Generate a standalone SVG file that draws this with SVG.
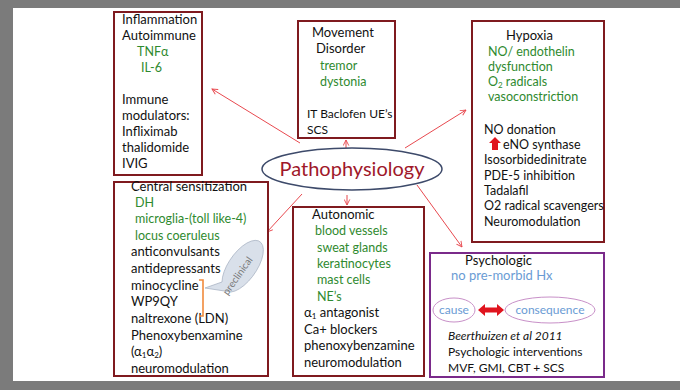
<svg xmlns="http://www.w3.org/2000/svg" width="680" height="390" viewBox="0 0 680 390">
<defs>
<style>
text{font-family:Lato,"Open Sans","Liberation Sans",sans-serif;font-size:13px;fill:#111}
.g{fill:#2f8a2f;font-size:12.5px}
.b{fill:#6a9bd4}
.box{fill:#fff;stroke:#7f1a1f;stroke-width:2}
.conn{stroke:#e8494f;stroke-width:1;fill:none;marker-end:url(#ah)}
.sub{font-size:8px}
</style>
<marker id="ah" viewBox="0 0 10 10" refX="9" refY="5" markerWidth="7" markerHeight="7" orient="auto" markerUnits="userSpaceOnUse">
<path d="M1,1 L9,5 L1,9" fill="none" stroke="#e8494f" stroke-width="1.3"/>
</marker>
</defs>
<rect x="0" y="0" width="680" height="390" fill="#7b7b7b"/>
<rect x="13" y="8" width="667" height="373" fill="#fff"/>

<g id="connectors">
<line class="conn" x1="300" y1="143" x2="212" y2="89"/>
<line class="conn" x1="346" y1="148" x2="346" y2="140"/>
<line class="conn" x1="405" y1="148" x2="466" y2="110"/>
<line class="conn" x1="302" y1="194" x2="267" y2="232"/>
<line class="conn" x1="347" y1="195" x2="347" y2="205"/>
<line class="conn" x1="417" y1="185" x2="462" y2="247"/>
</g>

<g id="center">
<ellipse cx="352" cy="169" rx="90" ry="21" fill="#fff" stroke="#3d4a6a" stroke-width="1.5"/>
<text x="352" y="176" text-anchor="middle" style="font-size:20px;fill:#a0182a">Pathophysiology</text>
</g>

<g id="inflammation">
<rect class="box" x="114" y="12" width="88" height="163"/>
<text x="122" y="24">Inflammation</text>
<text x="122" y="40">Autoimmune</text>
<text class="g" x="137" y="56">TNFα</text>
<text class="g" x="141" y="72">IL-6</text>
<text x="122" y="104">Immune</text>
<text x="122" y="120">modulators:</text>
<text x="122" y="136">Infliximab</text>
<text x="122" y="152">thalidomide</text>
<text x="122" y="168">IVIG</text>
</g>

<g id="movement">
<rect class="box" x="298" y="21" width="97" height="117"/>
<text x="312" y="37">Movement</text>
<text x="316" y="53">Disorder</text>
<text class="g" x="320" y="70">tremor</text>
<text class="g" x="320" y="86">dystonia</text>
<text x="307" y="118" style="font-size:12px">IT Baclofen UE’s</text>
<text x="307" y="134" style="font-size:12px">SCS</text>
</g>

<g id="hypoxia">
<rect class="box" x="472" y="21" width="132" height="221"/>
<text x="506" y="40">Hypoxia</text>
<text class="g" x="488" y="56">NO/ endothelin</text>
<text class="g" x="488" y="71">dysfunction</text>
<text class="g" x="488" y="86">O<tspan dy="2" class="sub">2</tspan><tspan dy="-2"> radicals</tspan></text>
<text class="g" x="488" y="101">vasoconstriction</text>
<text x="484" y="134" style="font-size:12.5px">NO donation</text>
<path d="M489,143 L495,137 L501,143 L498,143 L498,150 L492,150 L492,143 Z" fill="#e0141e"/>
<text x="503" y="149" style="font-size:12.5px">eNO synthase</text>
<text x="484" y="164" style="font-size:12.5px">Isosorbidedinitrate</text>
<text x="484" y="180" style="font-size:12.5px">PDE-5 inhibition</text>
<text x="484" y="195" style="font-size:12.5px">Tadalafil</text>
<text x="484" y="210" style="font-size:12.5px">O2 radical scavengers</text>
<text x="484" y="226" style="font-size:12.5px">Neuromodulation</text>
</g>

<g id="central">
<rect class="box" x="114" y="182" width="154" height="194"/>
<text x="131" y="191">Central sensitization</text>
<text class="g" x="135" y="207">DH</text>
<text class="g" x="135" y="223">microglia-(toll like-4)</text>
<text class="g" x="135" y="240">locus coeruleus</text>
<text x="131" y="256">anticonvulsants</text>
<text x="131" y="273">antidepressants</text>
<text x="131" y="290">minocycline</text>
<text x="131" y="306">WP9QY</text>
<text x="131" y="323">naltrexone (LDN)</text>
<text x="131" y="340">Phenoxybenxamine</text>
<text x="131" y="356">(α<tspan dy="2" class="sub">1</tspan><tspan dy="-2">α</tspan><tspan dy="2" class="sub">2</tspan><tspan dy="-2">)</tspan></text>
<text x="131" y="373">neuromodulation</text>
<path d="M199,280 L203,280 L203,316 L199,316" fill="none" stroke="#f08a3c" stroke-width="1.6"/>
<path d="M205,288 L222,282 A30,14 -55 1 1 231,292 Z" fill="#d9e0ea" stroke="#aab4c4" stroke-width="0.8"/>
<text x="238" y="279" text-anchor="middle" transform="rotate(-55 238 276)" style="font-size:10px;fill:#7a7a7a">preclinical</text>
</g>

<g id="autonomic">
<rect class="box" x="293" y="207" width="131" height="169"/>
<text x="312" y="219">Autonomic</text>
<text class="g" x="315" y="235">blood vessels</text>
<text class="g" x="317" y="252">sweat glands</text>
<text class="g" x="317" y="268">keratinocytes</text>
<text class="g" x="317" y="284">mast cells</text>
<text class="g" x="317" y="301">NE’s</text>
<text x="304" y="317">α<tspan dy="2" class="sub">1</tspan><tspan dy="-2"> antagonist</tspan></text>
<text x="304" y="334">Ca+ blockers</text>
<text x="304" y="350">phenoxybenzamine</text>
<text x="304" y="367">neuromodulation</text>
</g>

<g id="psychologic">
<rect x="430" y="253" width="174" height="124" fill="#fff" stroke="#7a2a8a" stroke-width="2"/>
<text x="465" y="265">Psychologic</text>
<text class="b" x="451" y="280">no pre-morbid Hx</text>
<ellipse cx="454" cy="310" rx="21" ry="12" fill="none" stroke="#c890c8" stroke-width="1"/>
<text class="b" x="454" y="314" text-anchor="middle" style="font-size:12px">cause</text>
<ellipse cx="550" cy="310" rx="45" ry="13" fill="none" stroke="#c890c8" stroke-width="1"/>
<text class="b" x="550" y="314" text-anchor="middle" style="font-size:12px">consequence</text>
<path d="M478,310 L485,304 L485,307.5 L497,307.5 L497,304 L504,310 L497,316 L497,312.5 L485,312.5 L485,316 Z" fill="#e0141e"/>
<text x="448" y="340" style="font-style:italic;font-size:12px">Beerthuizen et al 2011</text>
<text x="448" y="356" style="font-size:12px">Psychologic interventions</text>
<text x="448" y="372" style="font-size:12px">MVF, GMI, CBT + SCS</text>
</g>
</svg>
